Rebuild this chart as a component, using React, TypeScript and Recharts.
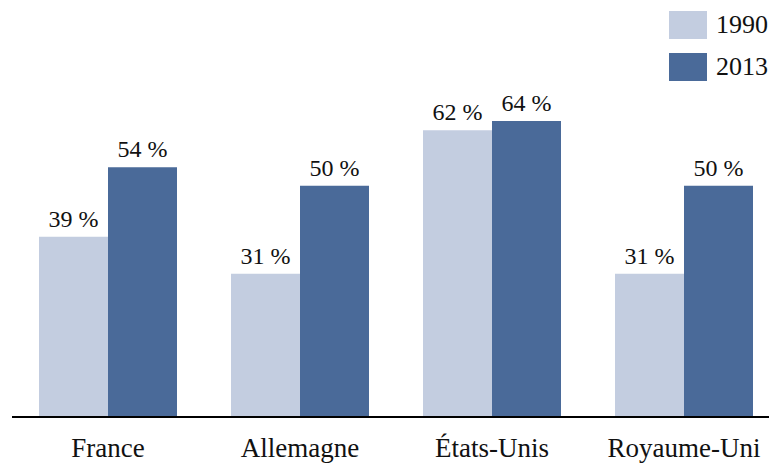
import React from "react";
import { BarChart, Bar, XAxis, YAxis, LabelList, Legend } from "recharts";

const countries = ["France", "Allemagne", "États-Unis", "Royaume-Uni"];
const share1990 = [39, 31, 62, 31];
const share2013 = [54, 50, 64, 50];
const years = ["1990", "2013"];

const LIGHT = "#c3cde0";
const DARK = "#4a6a99";
const FONT = "Liberation Serif";

const data = countries.map((name, i) => ({
  name,
  y1990: share1990[i],
  y2013: share2013[i],
}));

// legend: two stacked swatches, pinned to the top right corner
function YearLegend() {
  const colors = [LIGHT, DARK];
  return (
    <div style={{ fontFamily: FONT }}>
      {years.map((y, i) => (
        <div
          key={y}
          style={{ display: "flex", alignItems: "center", height: 28, marginBottom: 14 }}
        >
          <span style={{ width: 38, height: 28, background: colors[i], display: "inline-block" }} />
          <span style={{ marginLeft: 9, fontSize: 26, color: "#111", lineHeight: "28px", whiteSpace: "nowrap" }}>{y}</span>
        </div>
      ))}
    </div>
  );
}

const pct = (v: number) => `${v} %`;
const labelStyle = { fill: "#111", fontSize: 24, fontFamily: FONT };

export default function App() {
  return (
    <div style={{ position: "absolute", left: 0, top: 0, width: 769, height: 464, overflow: "hidden", background: "#fff" }}>
      <BarChart
        width={790}
        height={464}
        data={data}
        margin={{ top: 47, right: 10, bottom: 0, left: 12 }}
        barCategoryGap={27}
        barGap={0}
      >
        <XAxis
          dataKey="name"
          height={47}
          tickLine={false}
          axisLine={{ stroke: "#000", strokeWidth: 2 }}
          tickMargin={15}
          tick={{ fill: "#111", fontSize: 27, fontFamily: FONT }}
          interval={0}
        />
        <YAxis hide domain={[0, 80]} />
        <Legend
          layout="horizontal"
          verticalAlign="middle"
          align="center"
          content={() => <YearLegend />}
          wrapperStyle={{ top: 11, left: 669, width: 120 }}
        />
        <Bar dataKey="y1990" fill={LIGHT} isAnimationActive={false}>
          <LabelList dataKey="y1990" position="top" offset={10} formatter={pct} style={labelStyle} />
        </Bar>
        <Bar dataKey="y2013" fill={DARK} isAnimationActive={false}>
          <LabelList dataKey="y2013" position="top" offset={10} formatter={pct} style={labelStyle} />
        </Bar>
      </BarChart>
    </div>
  );
}
